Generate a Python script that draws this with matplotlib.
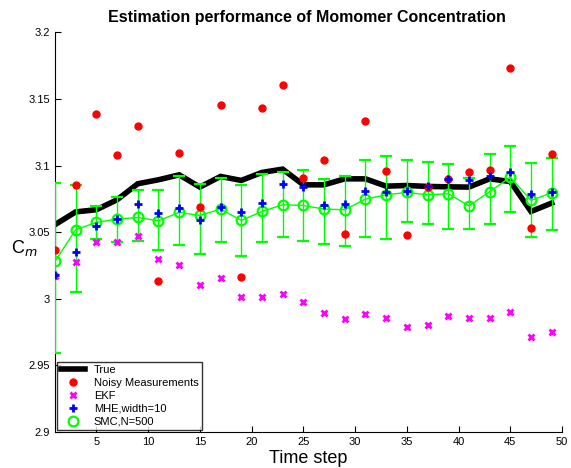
import matplotlib
matplotlib.use("Agg")
import matplotlib.pyplot as plt
from matplotlib.lines import Line2D
import numpy as np

plt.rcParams['font.family'] = ['Liberation Sans', 'DejaVu Sans']

t = np.arange(1, 50, 2)

true_c = [3.0556, 3.0652, 3.0668, 3.0743, 3.0863, 3.0893, 3.0930, 3.0838, 3.0918,
          3.0888, 3.0948, 3.0973, 3.0855, 3.0855, 3.0900, 3.0900, 3.0845, 3.0850,
          3.0843, 3.0840, 3.0838, 3.0900, 3.0880, 3.0655, 3.0718]

noisy = [3.0366, 3.0850, 3.1385, 3.1078, 3.1300, 3.0130, 3.1095, 3.0688, 3.1453,
         3.0160, 3.1430, 3.1605, 3.0905, 3.1043, 3.0488, 3.1335, 3.0958, 3.0478,
         3.0838, 3.0900, 3.0948, 3.0965, 3.1732, 3.0530, 3.1083]

ekf = [3.0173, 3.0273, 3.0426, 3.0426, 3.0468, 3.0298, 3.0253, 3.0106, 3.0158,
       3.0010, 3.0015, 3.0036, 2.9973, 2.9896, 2.9849, 2.9886, 2.9856, 2.9789,
       2.9804, 2.9868, 2.9858, 2.9856, 2.9898, 2.9714, 2.9751]

mhe = [3.0180, 3.0348, 3.0543, 3.0598, 3.0713, 3.0643, 3.0680, 3.0588, 3.0688,
       3.0648, 3.0718, 3.0863, 3.0838, 3.0700, 3.0713, 3.0810, 3.0800, 3.0808,
       3.0843, 3.0900, 3.0888, 3.0918, 3.0955, 3.0788, 3.0800]

smc = [3.0280, 3.0518, 3.0573, 3.0598, 3.0610, 3.0585, 3.0648, 3.0625, 3.0673,
       3.0588, 3.0655, 3.0705, 3.0700, 3.0673, 3.0668, 3.0748, 3.0780, 3.0798,
       3.0780, 3.0788, 3.0698, 3.0803, 3.0913, 3.0738, 3.0795]

smc_low = [2.9589, 3.0048, 3.0448, 3.0423, 3.0430, 3.0363, 3.0406, 3.0336, 3.0426,
           3.0318, 3.0426, 3.0460, 3.0430, 3.0413, 3.0393, 3.0463, 3.0450, 3.0576,
           3.0560, 3.0526, 3.0523, 3.0560, 3.0650, 3.0460, 3.0515]

smc_high = [3.0868, 3.0850, 3.0698, 3.0763, 3.0813, 3.0813, 3.0923, 3.0860, 3.0910,
            3.0855, 3.0935, 3.0948, 3.0963, 3.0900, 3.0918, 3.1038, 3.1073, 3.1043,
            3.1023, 3.1010, 3.0910, 3.1090, 3.1150, 3.1018, 3.1055]

smc = np.array(smc)
yerr = [smc - np.array(smc_low), np.array(smc_high) - smc]

fig = plt.figure(figsize=(5.71, 4.68), dpi=100)
ax = fig.add_axes([0.0963, 0.077, 0.888, 0.854])

ax.plot(t, true_c, color='black', lw=4, solid_joinstyle='miter', zorder=2)
ax.errorbar(t, smc, yerr=yerr, color=(0, 1, 0), lw=1, capsize=4, capthick=1,
            marker='o', ms=7, mfc='none', mec=(0, 1, 0), mew=1.6, zorder=3)
ax.plot(t, noisy, 'o', color='red', ms=5, mec='red', zorder=4)
ax.plot(t, ekf, 'x', color='magenta', ms=4, mew=2, zorder=4)
ax.plot(t, mhe, '+', color='blue', ms=6, mew=2, zorder=5)

ax.set_xlim(1, 50)
ax.set_ylim(2.9, 3.2)
ax.set_xticks([5, 10, 15, 20, 25, 30, 35, 40, 45, 50])
ax.set_yticks([2.9, 2.95, 3.0, 3.05, 3.1, 3.15, 3.2])
ax.set_yticklabels(['2.9', '2.95', '3', '3.05', '3.1', '3.15', '3.2'])
ax.tick_params(direction='in', labelsize=8, length=4)
ax.spines['top'].set_visible(False)
ax.spines['right'].set_visible(False)

fig.text(0.5375, 0.963, 'Estimation performance of Momomer Concentration',
         fontsize=11.5, fontweight='bold', ha='center', va='center')
ax.set_xlabel('Time step', fontsize=13, labelpad=2)
ax.set_ylabel('C$_m$', fontsize=13, rotation=0, ha='center', va='center')
ax.yaxis.set_label_coords(-0.06, 0.46)

handles = [
    Line2D([], [], color='black', lw=4),
    Line2D([], [], ls='none', marker='o', color='red', ms=5),
    Line2D([], [], ls='none', marker='x', color='magenta', ms=4, mew=2),
    Line2D([], [], ls='none', marker='+', color='blue', ms=6, mew=2),
    Line2D([], [], ls='none', marker='o', mfc='none', mec=(0, 1, 0), ms=7, mew=1.6),
]
labels = ['True', 'Noisy Measurements', 'EKF', 'MHE,width=10', 'SMC,N=500']
leg = ax.legend(handles, labels, loc='lower left', fontsize=8, frameon=True,
                fancybox=False, edgecolor='black', borderpad=0.3,
                labelspacing=0.25, handlelength=2.2, borderaxespad=0.2)
leg.get_frame().set_linewidth(1)

fig.savefig('out.png', dpi=100)
